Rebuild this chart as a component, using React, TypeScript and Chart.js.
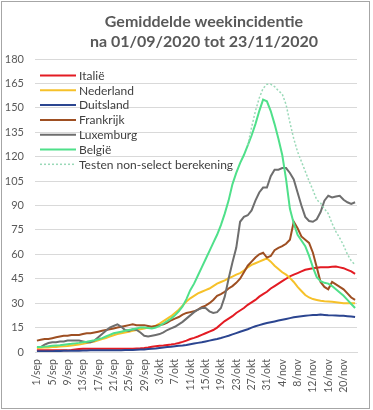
import React, { useEffect, useRef } from 'react';
import { Chart, registerables } from 'chart.js';

Chart.register(...registerables);

const TITLE_LINES = ['Gemiddelde weekincidentie', 'na 01/09/2020 tot 23/11/2020'];

const DATES = [
  '1/sep', '2/sep', '3/sep', '4/sep', '5/sep', '6/sep', '7/sep', '8/sep', '9/sep', '10/sep',
  '11/sep', '12/sep', '13/sep', '14/sep', '15/sep', '16/sep', '17/sep', '18/sep', '19/sep', '20/sep',
  '21/sep', '22/sep', '23/sep', '24/sep', '25/sep', '26/sep', '27/sep', '28/sep', '29/sep', '30/sep',
  '1/okt', '2/okt', '3/okt', '4/okt', '5/okt', '6/okt', '7/okt', '8/okt', '9/okt', '10/okt',
  '11/okt', '12/okt', '13/okt', '14/okt', '15/okt', '16/okt', '17/okt', '18/okt', '19/okt', '20/okt',
  '21/okt', '22/okt', '23/okt', '24/okt', '25/okt', '26/okt', '27/okt', '28/okt', '29/okt', '30/okt',
  '31/okt', '1/nov', '2/nov', '3/nov', '4/nov', '5/nov', '6/nov', '7/nov', '8/nov', '9/nov',
  '10/nov', '11/nov', '12/nov', '13/nov', '14/nov', '15/nov', '16/nov', '17/nov', '18/nov', '19/nov',
  '20/nov', '21/nov', '22/nov', '23/nov',
];

const ITALIE = [
  1, 1, 1, 1, 1, 1, 1, 1, 1, 1.2,
  1.5, 1.8, 2, 2, 2, 2, 2, 2, 2, 2,
  2, 2, 2, 2, 2, 2, 2.2, 2.3, 2.5, 2.8,
  3.2, 3.5, 3.8, 4, 4.3, 4.6, 5, 5.5, 6.2, 7,
  8, 8.7, 9.5, 10.5, 11.5, 12.5, 13.5, 15, 17, 19,
  20.5, 22, 24, 25.5, 27, 29, 30.5, 32, 34, 35.5,
  37, 39, 40.5, 42, 43.5, 45, 46.5, 47.5, 48.5, 49.5,
  50.5, 51, 51.5, 51.8, 52, 52, 52, 52.3, 52.5, 52,
  51.5, 50.5, 49.5, 48,
];

const NEDERLAND = [
  2.5, 2.6, 2.7, 2.8, 3, 3.1, 3.3, 3.5, 3.7, 4,
  4.3, 4.6, 5, 5.5, 6, 6.5, 7.2, 8, 8.6, 9.5,
  10.3, 11, 11.5, 12, 12.5, 13, 13.5, 14, 14.5, 15,
  15.5, 16.2, 17.5, 19, 20.5, 22, 24, 26, 28.5, 31,
  33, 34.5, 36, 37, 38, 39, 40.5, 42, 43, 44,
  45.3, 46.3, 47.5, 48.5, 50, 52, 53.5, 54.5, 55.5, 56.5,
  57.5, 55.5, 53, 51, 49, 47.5, 45.5, 43, 40, 37.5,
  35, 33.5, 32.5, 32, 31.5, 31.2, 31, 30.8, 30.6, 30.3,
  30, 30, 30, 30,
];

const DUITSLAND = [
  0.5, 0.5, 0.5, 0.5, 0.5, 0.6, 0.6, 0.7, 0.7, 0.8,
  0.8, 0.8, 0.9, 0.9, 1, 1, 1, 1, 1, 1,
  1, 1.1, 1.1, 1.2, 1.2, 1.3, 1.4, 1.5, 1.6, 1.8,
  2, 2.2, 2.5, 2.8, 3, 3.2, 3.5, 3.8, 4, 4.3,
  4.8, 5.2, 5.6, 6, 6.5, 7, 7.5, 8, 8.6, 9.3,
  10, 10.8, 11.6, 12.4, 13.2, 14, 15, 15.8, 16.5, 17.2,
  17.8, 18.3, 18.8, 19.3, 19.8, 20.3, 20.8, 21.3, 21.7, 22,
  22.3, 22.5, 22.7, 22.8, 23, 22.8, 22.6, 22.5, 22.4, 22.3,
  22.2, 22, 21.8, 21.5,
];

const FRANKRIJK = [
  7, 7.5, 8, 8, 8.5, 9, 9.5, 10, 10, 10.5,
  10.5, 10.5, 11, 11.5, 11.5, 12, 12.5, 13, 13.5, 14,
  14.5, 15, 15.5, 16, 16.5, 17, 16.5, 16.5, 16.5, 16,
  15.5, 16, 16.5, 17, 18, 19.5, 20.5, 21.5, 23, 24,
  24.5, 25, 26, 27.5, 28.5, 30, 32, 34.5, 35.5, 37,
  39, 40.5, 42.5, 45, 49, 53, 55.5, 58, 60, 61,
  58, 59, 62.5, 64, 65, 66.5, 69, 80, 76, 71,
  69, 67, 61, 52, 43, 40, 38.5, 43, 41.5, 40,
  38.5, 36, 33.5, 32,
];

const LUXEMBURG = [
  null, 3, 4.5, 5.5, 6, 6, 6.5, 6.5, 7, 7,
  7, 7, 6.5, 6, 6, 7, 9, 11, 13, 15,
  16, 17, 15.5, 13.5, 13, 14, 13.5, 12, 10, 9.5,
  10, 10.5, 11, 12, 13.5, 14.5, 15.5, 17, 18.5, 20.5,
  22.5, 24.5, 26, 27, 27, 25, 24, 24.5, 27, 34,
  45, 55, 64, 80, 83, 84, 87, 93, 98, 101,
  101, 108, 112, 112, 113, 113, 110, 106, 98, 90,
  83, 80.5, 80, 81.5, 86, 93, 96, 95, 95.5, 96,
  93.5, 92, 91, 92,
];

const BELGIE = [
  3, 3, 3.3, 3.5, 3.8, 4, 4.2, 4.5, 4.8, 5,
  5.3, 5.6, 6, 6.3, 6.8, 7.2, 7.8, 8.5, 9.5, 10.5,
  11.5, 12, 12.5, 13, 13.5, 14, 14.5, 15, 15, 14.8,
  14.5, 15, 16, 17.5, 19, 20.5, 22.5, 25, 28, 32.5,
  38, 42, 47, 52, 57, 62, 67, 72, 78, 85,
  93, 103, 110, 116, 121, 127, 133, 140, 148, 155,
  154, 148, 140, 131, 121, 106, 88, 79, 72, 68.5,
  65, 59, 52, 46, 43.5, 42.5, 42, 40.5, 38.5, 36.5,
  34.5, 32, 29.5, 27,
];

const TESTEN = [
  null, null, null, null, null, null, null, null, null, null,
  null, null, null, null, null, null, null, null, null, null,
  null, null, null, null, null, null, null, null, null, null,
  null, null, null, null, null, null, null, null, null, null,
  null, null, null, null, null, null, null, null, null, null,
  null, null, null, null, null, 127, 138, 148, 156, 162,
  164.5, 164.5, 163, 160.5, 158.5, 152, 141, 131, 123, 117,
  111, 105, 99.5, 93.5, 91.5, 88, 85, 79, 74, 70,
  65.5, 60, 56, 53.5,
];

const SERIES_NAMES = ['Italië', 'Nederland', 'Duitsland', 'Frankrijk', 'Luxemburg', 'België', 'Testen non-select berekening'];
const SERIES_VALUES = [ITALIE, NEDERLAND, DUITSLAND, FRANKRIJK, LUXEMBURG, BELGIE, TESTEN];
const SERIES_COLORS = ['#e31b23', '#f6c12a', '#2b4590', '#9e4f22', '#6e6e6e', '#4fe08a', '#9ad9b8'];

const Y_MIN = 0;
const Y_MAX = 180;
const Y_STEP = 15;
const LABEL_EVERY = 4;

const FONT = 'Lato, "Open Sans", sans-serif';

const decorPlugin = {
  id: 'decor',
  beforeDraw(chart: any) {
    const ctx = chart.ctx;
    ctx.save();
    ctx.fillStyle = '#ffffff';
    ctx.fillRect(0, 0, chart.width, chart.height);
    ctx.restore();
  },
  afterDraw(chart: any) {
    const ctx = chart.ctx;
    const { left, right, top } = chart.chartArea;
    ctx.save();
    // title
    ctx.fillStyle = '#595959';
    ctx.font = `bold 16px ${FONT}`;
    ctx.textAlign = 'center';
    ctx.textBaseline = 'middle';
    const cx = (left + right) / 2 + 8;
    TITLE_LINES.forEach((t, i) => ctx.fillText(t, cx, 22 + i * 20));
    // legend
    ctx.font = `12px ${FONT}`;
    ctx.textAlign = 'left';
    chart.data.datasets.forEach((ds: any, i: number) => {
      const y = top + 16.5 + i * 14.8;
      ctx.beginPath();
      ctx.strokeStyle = ds.borderColor;
      ctx.lineWidth = ds.borderWidth;
      ctx.setLineDash(ds.borderDash || []);
      ctx.moveTo(left + 5, y);
      ctx.lineTo(left + 41, y);
      ctx.stroke();
      ctx.setLineDash([]);
      ctx.fillStyle = '#404040';
      ctx.fillText(ds.label, left + 44, y + 0.5);
    });
    // frame
    ctx.strokeStyle = '#a6a6a6';
    ctx.lineWidth = 1;
    ctx.strokeRect(1.5, 1.5, chart.width - 5, chart.height - 3);
    ctx.restore();
  },
};

export default function App() {
  const canvasRef = useRef<HTMLCanvasElement | null>(null);

  useEffect(() => {
    if (!canvasRef.current) return;
    const datasets = SERIES_NAMES.map((name, i) => ({
      label: name,
      data: SERIES_VALUES[i],
      borderColor: SERIES_COLORS[i],
      backgroundColor: SERIES_COLORS[i],
      borderWidth: i === 6 ? 1.5 : 2,
      borderDash: i === 6 ? [2, 2] : [],
      pointRadius: 0,
      tension: 0,
      fill: false,
      order: SERIES_NAMES.length - i,
    }));
    const chart = new Chart(canvasRef.current, {
      type: 'line',
      data: { labels: DATES, datasets },
      plugins: [decorPlugin],
      options: {
        responsive: false,
        animation: false,
        layout: { padding: { top: 59, right: 16, bottom: 0, left: 0 } },
        plugins: {
          legend: { display: false },
          title: { display: false },
          tooltip: { enabled: false },
        },
        scales: {
          x: {
            type: 'category',
            offset: true,
            grid: { display: false, drawTicks: false },
            border: { display: true, color: '#d9d9d9' },
            ticks: {
              autoSkip: false,
              maxRotation: 90,
              minRotation: 90,
              padding: 7,
              color: '#595959',
              font: { family: FONT, size: 10.5 },
              callback: (_v: any, i: number) => (i % LABEL_EVERY === 0 ? DATES[i] : null),
            },
            afterFit: (s: any) => {
              s.height = 58;
            },
          },
          y: {
            min: Y_MIN,
            max: Y_MAX,
            grid: { color: '#d9d9d9', drawTicks: false },
            border: { display: false },
            ticks: {
              stepSize: Y_STEP,
              padding: 11,
              color: '#595959',
              font: { family: FONT, size: 11 },
            },
            afterFit: (s: any) => {
              s.width = 35;
            },
          },
        },
      },
    } as any);
    return () => chart.destroy();
  }, []);

  return (
    <div style={{ position: 'absolute', left: 0, top: 0, width: 373, height: 410 }}>
      <canvas ref={canvasRef} width={373} height={410} style={{ display: 'block' }} />
    </div>
  );
}
